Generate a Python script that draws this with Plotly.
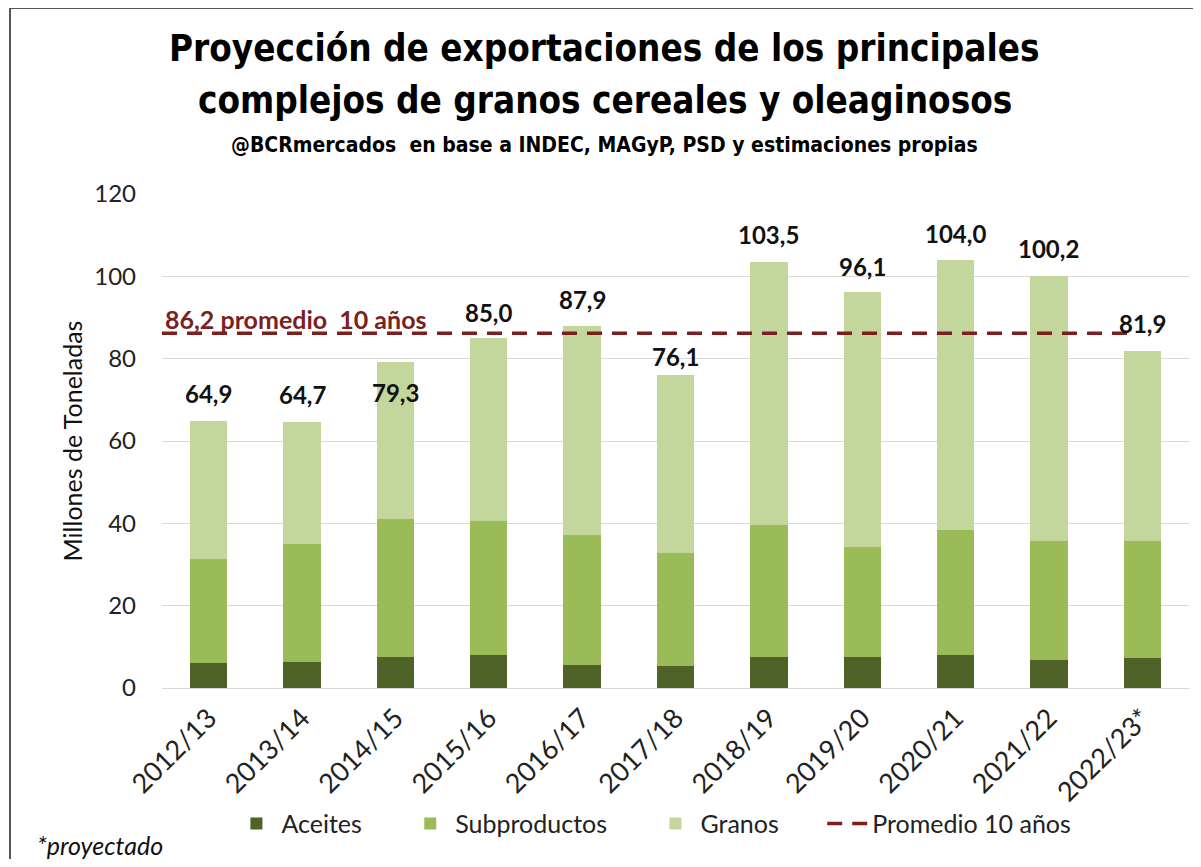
import plotly.graph_objects as go

# ---------------- data ----------------
campaigns = ["2012/13", "2013/14", "2014/15", "2015/16", "2016/17", "2017/18",
             "2018/19", "2019/20", "2020/21", "2021/22", "2022/23*"]
aceites = [6.0, 6.4, 7.5, 7.9, 5.7, 5.4, 7.5, 7.5, 7.9, 6.9, 7.3]
subproductos = [25.3, 28.7, 33.6, 32.6, 31.4, 27.5, 32.0, 26.7, 30.5, 28.8, 28.4]
totales = [64.9, 64.7, 79.3, 85.0, 87.9, 76.1, 103.5, 96.1, 104.0, 100.2, 81.9]
granos = [round(t - a - s, 1) for t, a, s in zip(totales, aceites, subproductos)]
promedio = 86.2
y_ticks = [0, 20, 40, 60, 80, 100, 120]

# ---------------- style ----------------
C_ACE = "#4F6228"
C_SUB = "#9BBB59"
C_GRA = "#C3D69B"
C_PROM = "#7B1F1F"
FONT = "Lato"
TFONT = "DejaVu Sans Condensed, Liberation Sans Narrow, DejaVu Sans, sans-serif"
label_shift = [27, 27, -31, 26, 27, 18, 27, 26, 26, 27, 27]
PAD = "\u00a0" * 6  # extra spacing between legend entries

def fmt(v):
    return f"{v:.1f}".replace(".", ",")

fig = go.Figure()
fig.add_trace(go.Bar(name="Aceites" + PAD, x=campaigns, y=aceites, marker_color=C_ACE,
                     marker_line_width=0))
fig.add_trace(go.Bar(name="Subproductos" + PAD, x=campaigns, y=subproductos, marker_color=C_SUB,
                     marker_line_width=0))
fig.add_trace(go.Bar(name="Granos" + PAD, x=campaigns, y=granos, marker_color=C_GRA,
                     marker_line_width=0))
n = len(campaigns)
fig.add_trace(go.Scatter(name="Promedio 10 años", x=[-0.5, n - 1.07], y=[promedio, promedio],
                         xaxis="x2", mode="lines",
                         line=dict(color=C_PROM, width=3.5, dash="15px,10px")))

annotations = []
for i, (c, t) in enumerate(zip(campaigns, totales)):
    annotations.append(dict(x=c, y=t, xref="x", yref="y", text=f"<b>{fmt(t)}</b>",
                            showarrow=False, xanchor="center", yanchor="middle",
                            yshift=label_shift[i],
                            font=dict(family=FONT, size=24, color="#111111")))
annotations.append(dict(x=0.13, y=promedio, xref="paper", yref="y",
                        text=f"<b>{fmt(promedio)} promedio  10 años</b>", showarrow=False,
                        xanchor="center", yanchor="middle", yshift=14,
                        font=dict(family=FONT, size=25, color=C_PROM)))
annotations.append(dict(x=0.431, y=1.2955, xref="paper", yref="paper",
                        text="<b>Proyección de exportaciones de los principales</b>",
                        showarrow=False, xanchor="center", yanchor="middle",
                        font=dict(family=TFONT, size=36.5, color="#000000")))
annotations.append(dict(x=0.431, y=1.19, xref="paper", yref="paper",
                        text="<b>complejos de granos cereales y oleaginosos</b>",
                        showarrow=False, xanchor="center", yanchor="middle",
                        font=dict(family=TFONT, size=36.5, color="#000000")))
annotations.append(dict(x=0.431, y=1.099, xref="paper", yref="paper",
                        text="<b>@BCRmercados  en base a INDEC, MAGyP, PSD y estimaciones propias</b>",
                        showarrow=False, xanchor="center", yanchor="middle",
                        font=dict(family=TFONT, size=21, color="#000000")))
annotations.append(dict(x=-0.124, y=-0.318, xref="paper", yref="paper", xanchor="left",
                        text="<i>*proyectado</i>", showarrow=False, yanchor="middle",
                        font=dict(family=FONT, size=25, color="#111111")))

shapes = [
    dict(type="line", xref="paper", yref="paper", x0=-0.148, x1=1.05, y0=1.3765, y1=1.3765,
         line=dict(color="#555555", width=2)),
    dict(type="line", xref="paper", yref="paper", x0=-0.148, x1=-0.148, y0=1.3765, y1=-0.5,
         line=dict(color="#555555", width=2)),
]

fig.update_layout(
    width=1185, height=851,
    barmode="stack", bargap=0.6,
    paper_bgcolor="white", plot_bgcolor="white",
    margin=dict(l=154, r=4, t=186, b=171),
    font=dict(family=FONT, size=24, color="#222222"),
    showlegend=True,
    legend=dict(orientation="h", x=0.479, xanchor="center", y=-0.275, yanchor="middle",
                font=dict(family=FONT, size=25, color="#222222"), traceorder="normal",
                itemwidth=40, bgcolor="rgba(0,0,0,0)"),
    xaxis=dict(type="category", tickangle=-45, showgrid=False, showline=False,
               tickfont=dict(family=FONT, size=27, color="#222222"), ticks="",
               ticklabelstandoff=8),
    xaxis2=dict(overlaying="x", range=[-0.5, n - 0.5], visible=False),
    yaxis=dict(range=[0, 120], tickvals=y_ticks, showgrid=True, gridcolor="#D9D9D9",
               gridwidth=1, zeroline=True, zerolinecolor="#D9D9D9", zerolinewidth=1,
               tickfont=dict(family=FONT, size=24, color="#222222"),
               ticklabelstandoff=25,
               title=dict(text="Millones de Toneladas", standoff=4,
                          font=dict(family=FONT, size=25, color="#111111"))),
    annotations=annotations,
    shapes=shapes,
)

fig.write_html("out.html")
